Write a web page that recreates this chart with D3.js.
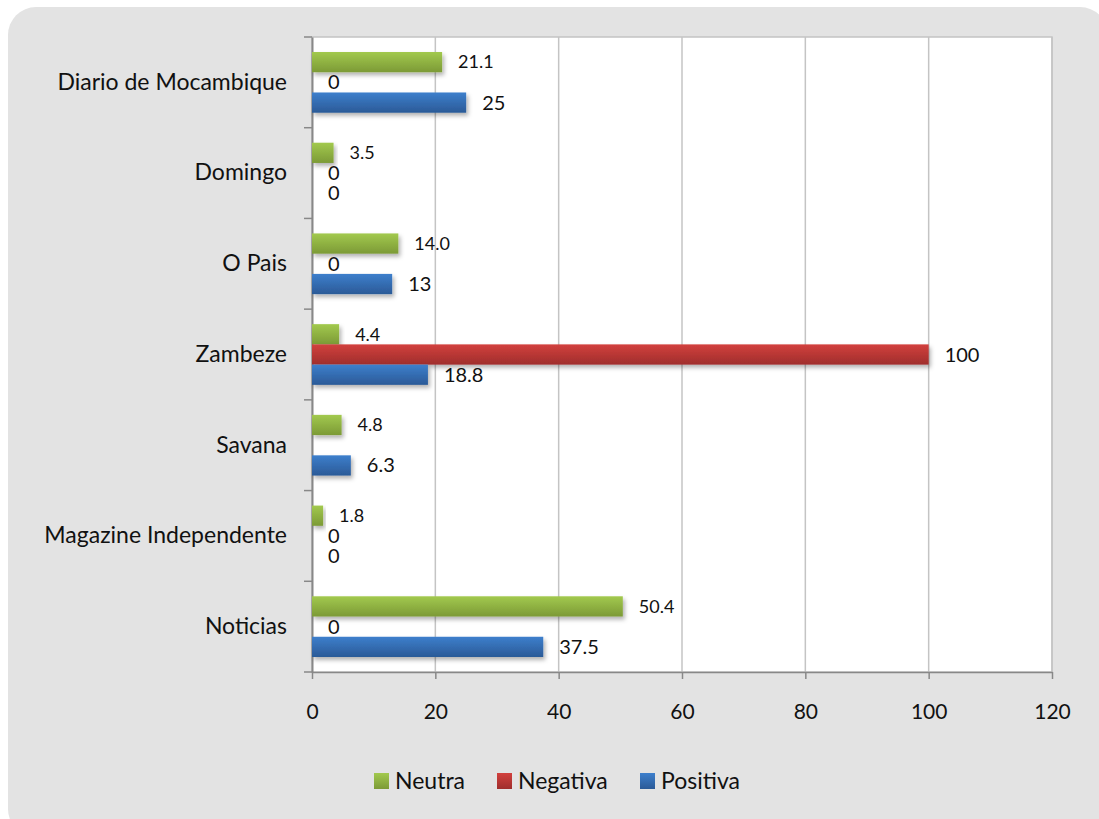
<!DOCTYPE html>
<html><head><meta charset="utf-8">
<script src="https://cdn.jsdelivr.net/npm/d3@7"></script>
<style>html,body{margin:0;padding:0;background:#fff;}svg{display:block;}</style>
</head><body>
<script>
const categories = ["Diario de Mocambique","Domingo","O Pais","Zambeze","Savana","Magazine Independente","Noticias"];
const seriesNames = ["Neutra","Negativa","Positiva"];
const neutra = [21.1, 3.5, 14.0, 4.4, 4.8, 1.8, 50.4];
const negativa = [0, 0, 0, 100, null, 0, 0];
const positiva = [25, 0, 13, 18.8, 6.3, 0, 37.5];
const xTicks = [0, 20, 40, 60, 80, 100, 120];

(function () {
const W = 1099, H = 819;
const FONT = "Lato, 'Open Sans', sans-serif";
const svg = d3.select("body").append("svg").attr("width", W).attr("height", H);
const defs = svg.append("defs");
const colors = {
  Neutra: ["#a2c94e", "#7c9a36"],
  Negativa: ["#d2403d", "#9f2e2c"],
  Positiva: ["#3d7fcc", "#2b5a97"]
};
seriesNames.forEach((s, i) => {
  const g = defs.append("linearGradient").attr("id", "g" + i).attr("x1", 0).attr("y1", 0).attr("x2", 0).attr("y2", 1);
  g.append("stop").attr("offset", "0%").attr("stop-color", colors[s][0]);
  g.append("stop").attr("offset", "100%").attr("stop-color", colors[s][1]);
});
const f = defs.append("filter").attr("id", "sh").attr("x", "-10%").attr("y", "-50%").attr("width", "130%").attr("height", "250%");
f.append("feDropShadow").attr("dx", 2).attr("dy", 3).attr("stdDeviation", 2).attr("flood-color", "#000").attr("flood-opacity", 0.3);

svg.append("rect").attr("x", 8).attr("y", 7).attr("width", 1100).attr("height", 830).attr("rx", 28).attr("fill", "#e3e3e3");

const pl = 312, pr = 1052, pt = 37, pb = 672;
const x = d3.scaleLinear().domain([0, 120]).range([pl, pr]);
const y0 = d3.scaleBand().domain(categories).range([pt, pb]);
const y1 = d3.scaleBand().domain(seriesNames).range([15, y0.bandwidth() - 15]);

svg.append("rect").attr("x", pl).attr("y", pt).attr("width", pr - pl).attr("height", pb - pt)
  .attr("fill", "#fff").attr("stroke", "#c4c4c4").attr("stroke-width", 1.5);

svg.append("g").selectAll("line").data(xTicks.slice(1)).join("line")
  .attr("x1", d => x(d)).attr("x2", d => x(d)).attr("y1", pt).attr("y2", pb)
  .attr("stroke", "#c4c4c4").attr("stroke-width", 1.5);

const xAxis = svg.append("g").attr("transform", `translate(0,${pb})`)
  .call(d3.axisBottom(x).tickValues(xTicks).tickSize(7).tickPadding(25).tickSizeOuter(0));
xAxis.select(".domain").attr("stroke", "#888").attr("stroke-width", 1.5);
xAxis.selectAll(".tick line").attr("stroke", "#888").attr("stroke-width", 1.5);
xAxis.selectAll("text").attr("font-family", FONT).attr("font-size", 21).attr("fill", "#111");

const yAxis = svg.append("g").attr("transform", `translate(${pl},0)`)
  .call(d3.axisLeft(y0).tickSize(0).tickPadding(25));
yAxis.select(".domain").attr("stroke", "#888").attr("stroke-width", 2);
yAxis.selectAll("text").attr("font-family", FONT).attr("font-size", 23).attr("fill", "#111");
svg.append("g").selectAll("line").data(d3.range(categories.length + 1)).join("line")
  .attr("x1", pl - 8).attr("x2", pl)
  .attr("y1", i => pt + i * y0.step()).attr("y2", i => pt + i * y0.step())
  .attr("stroke", "#888").attr("stroke-width", 1.5);

const seriesVals = [neutra, negativa, positiva];
const rows = [];
seriesNames.forEach((s, si) => categories.forEach((c, ci) => {
  rows.push({ s, si, c, v: seriesVals[si][ci] });
}));

svg.append("g").selectAll("rect").data(rows.filter(d => d.v != null && d.v > 0)).join("rect")
  .attr("x", x(0)).attr("y", d => y0(d.c) + y1(d.s))
  .attr("width", d => x(d.v) - x(0)).attr("height", y1.bandwidth())
  .attr("fill", d => `url(#g${d.si})`).attr("filter", "url(#sh)");

const fmtN = d3.format(".1f");
svg.append("g").selectAll("text").data(rows.filter(d => d.v != null)).join("text")
  .attr("x", d => x(d.v) + 16)
  .attr("y", d => y0(d.c) + y1(d.s) + y1.bandwidth() / 2)
  .attr("dy", "0.35em")
  .attr("font-family", FONT)
  .attr("font-size", d => d.s === "Neutra" ? 18 : 20)
  .attr("fill", "#111")
  .text(d => d.s === "Neutra" ? fmtN(d.v) : String(d.v));

const legendX = [374, 497, 640];
const lg = svg.append("g");
seriesNames.forEach((s, i) => {
  lg.append("rect").attr("x", legendX[i]).attr("y", 773).attr("width", 15).attr("height", 16).attr("fill", `url(#g${i})`);
  lg.append("text").attr("x", legendX[i] + 21).attr("y", 781).attr("dy", "0.35em")
    .attr("font-family", FONT).attr("font-size", 23).attr("fill", "#111").text(s);
});
})();
</script>
</body></html>
